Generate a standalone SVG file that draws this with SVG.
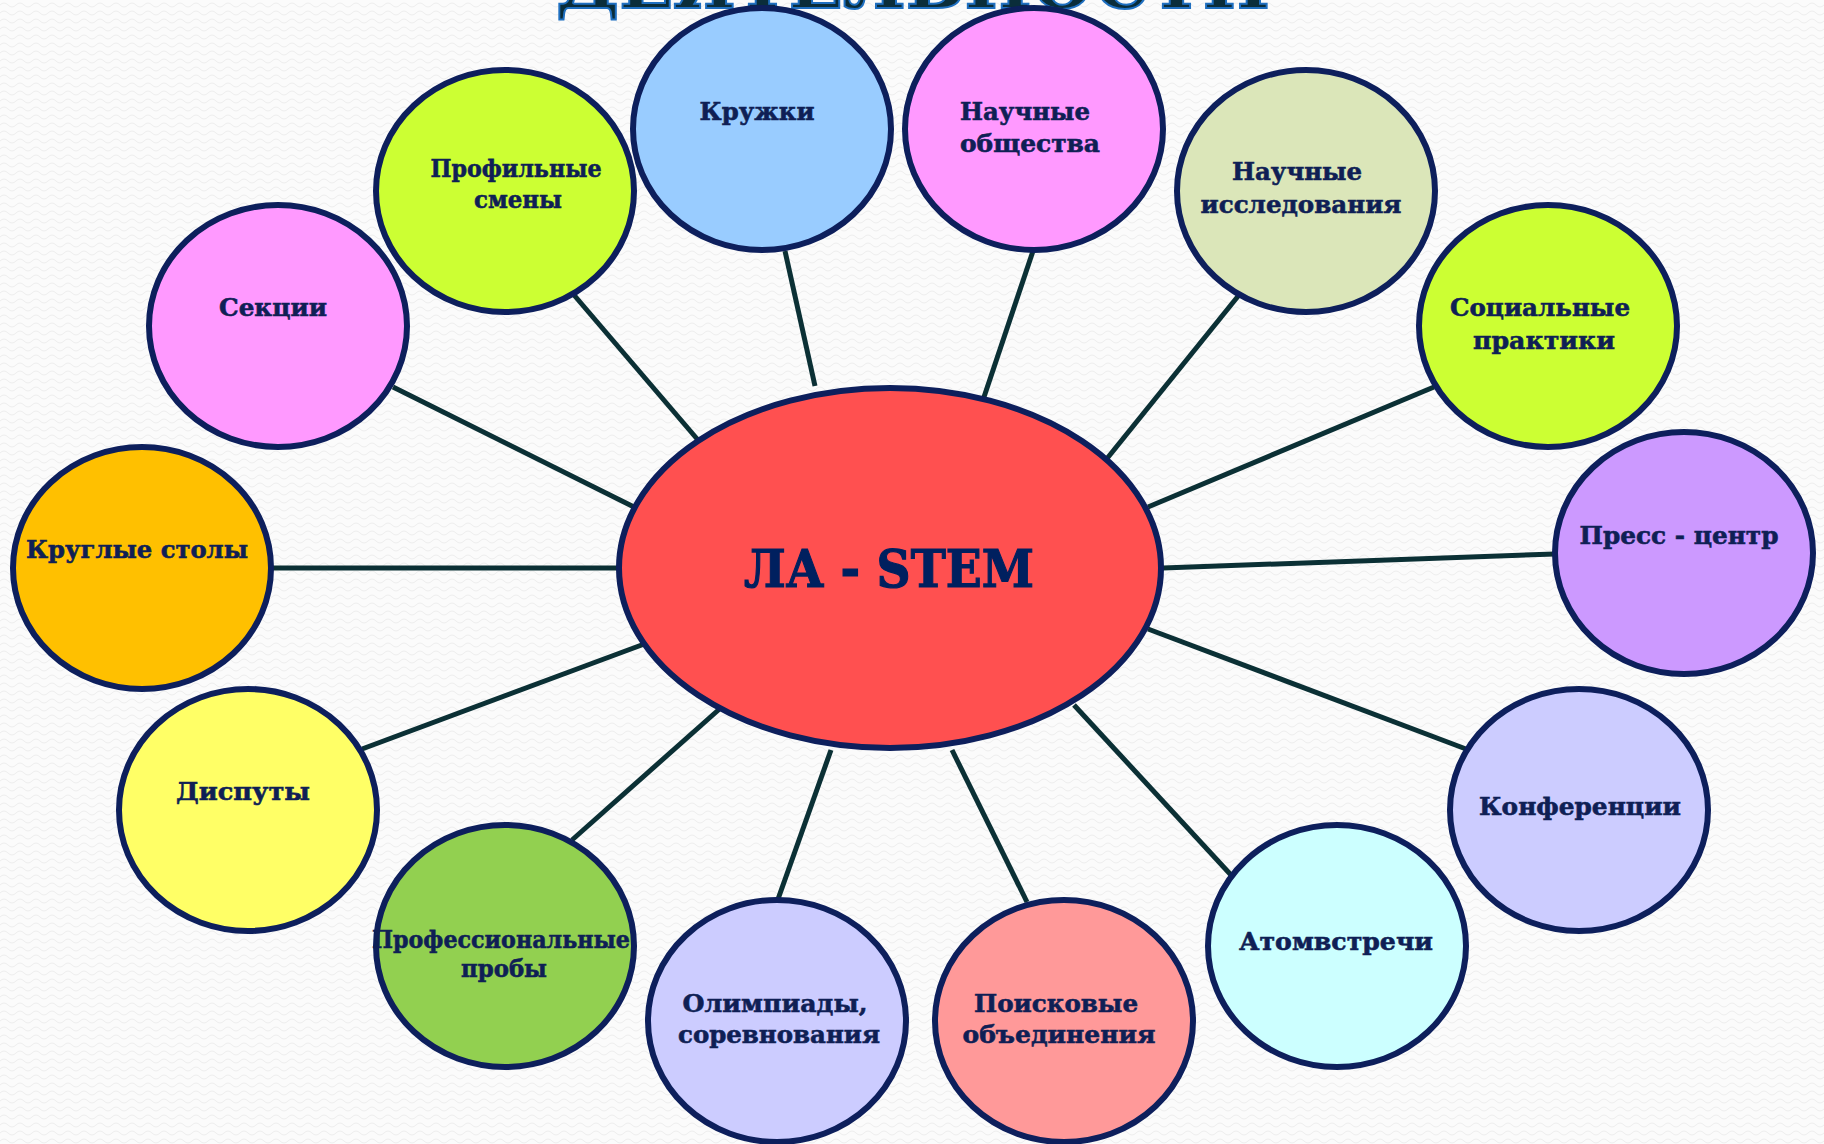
<svg xmlns="http://www.w3.org/2000/svg" width="1824" height="1144" viewBox="0 0 1824 1144">
<defs>
<pattern id="wave" width="16" height="8" patternUnits="userSpaceOnUse">
<rect width="16" height="8" fill="#fbfbfb"/>
<path d="M0 5 Q4 1 8 5 T16 5" fill="none" stroke="#eeeeee" stroke-width="1"/>
</pattern>
<style>
.n{stroke:#0d1f5c;stroke-width:6}
.c{stroke:#0b3035;stroke-width:5;fill:none}
.t{font-family:"DejaVu Serif","Liberation Serif",serif;font-weight:bold;font-size:25px;fill:#0f1f55;stroke:#0f1f55;stroke-width:0.6;text-anchor:middle}
.big{font-size:52px;fill:#00205f;stroke:#00205f;stroke-width:1.2}
.title{font-family:"DejaVu Serif","Liberation Serif",serif;font-weight:bold;font-size:72px;fill:#0a2d3a;stroke:#1f6fc0;stroke-width:2;text-anchor:middle}
</style>
</defs>
<rect width="1824" height="1144" fill="url(#wave)"/>
<text class="title" x="913" y="8" textLength="714" lengthAdjust="spacingAndGlyphs">ДЕЯТЕЛЬНОСТИ</text>
<g id="connectors">
<line class="c" x1="271" y1="568" x2="618" y2="568"/>
<line class="c" x1="393" y1="387" x2="634" y2="507"/>
<line class="c" x1="574" y1="295" x2="698" y2="440"/>
<line class="c" x1="785" y1="251" x2="815" y2="386"/>
<line class="c" x1="1033" y1="251" x2="983" y2="400"/>
<line class="c" x1="1239" y1="295" x2="1105" y2="461"/>
<line class="c" x1="1434" y1="387" x2="1148" y2="507"/>
<line class="c" x1="1555" y1="554" x2="1163" y2="568"/>
<line class="c" x1="1466" y1="749" x2="1148" y2="629"/>
<line class="c" x1="1231" y1="875" x2="1074" y2="705"/>
<line class="c" x1="1027" y1="902" x2="952" y2="750"/>
<line class="c" x1="777" y1="902" x2="831" y2="750"/>
<line class="c" x1="572" y1="840" x2="724" y2="705"/>
<line class="c" x1="362" y1="749" x2="647" y2="643"/>
</g>
<g id="center">
<ellipse class="n" cx="890" cy="568" rx="271" ry="180" fill="#ff5050"/>
<text class="t big" x="889" y="587" textLength="290" lengthAdjust="spacingAndGlyphs">ЛА - STEM</text>
</g>
<g id="n1">
<ellipse class="n" cx="142" cy="568" rx="129" ry="121" fill="#ffc000"/>
<text class="t" x="137" y="558" textLength="222" lengthAdjust="spacingAndGlyphs">Круглые столы</text>
</g>
<g id="n2">
<ellipse class="n" cx="278" cy="326" rx="129" ry="121" fill="#ff99ff"/>
<text class="t" x="273" y="316" textLength="108" lengthAdjust="spacingAndGlyphs">Секции</text>
</g>
<g id="n3">
<ellipse class="n" cx="505" cy="191" rx="129" ry="121" fill="#ccff33"/>
<text class="t" x="516" y="177" textLength="171" lengthAdjust="spacingAndGlyphs">Профильные</text>
<text class="t" x="518" y="208" textLength="88" lengthAdjust="spacingAndGlyphs">смены</text>
</g>
<g id="n4">
<ellipse class="n" cx="762" cy="129" rx="129" ry="121" fill="#99ccff"/>
<text class="t" x="757" y="120" textLength="115" lengthAdjust="spacingAndGlyphs">Кружки</text>
</g>
<g id="n5">
<ellipse class="n" cx="1034" cy="129" rx="129" ry="121" fill="#ff99ff"/>
<text class="t" x="1025" y="120" textLength="130" lengthAdjust="spacingAndGlyphs">Научные</text>
<text class="t" x="1030" y="152" textLength="140" lengthAdjust="spacingAndGlyphs">общества</text>
</g>
<g id="n6">
<ellipse class="n" cx="1306" cy="191" rx="129" ry="121" fill="#dbe6b9"/>
<text class="t" x="1297" y="180" textLength="130" lengthAdjust="spacingAndGlyphs">Научные</text>
<text class="t" x="1301" y="213" textLength="201" lengthAdjust="spacingAndGlyphs">исследования</text>
</g>
<g id="n7">
<ellipse class="n" cx="1548" cy="326" rx="129" ry="121" fill="#ccff33"/>
<text class="t" x="1540" y="316" textLength="180" lengthAdjust="spacingAndGlyphs">Социальные</text>
<text class="t" x="1544" y="349" textLength="142" lengthAdjust="spacingAndGlyphs">практики</text>
</g>
<g id="n8">
<ellipse class="n" cx="1684" cy="553" rx="129" ry="121" fill="#cc99ff"/>
<text class="t" x="1679" y="544" textLength="199" lengthAdjust="spacingAndGlyphs">Пресс - центр</text>
</g>
<g id="n9">
<ellipse class="n" cx="1579" cy="810" rx="129" ry="121" fill="#ccccff"/>
<text class="t" x="1580" y="815" textLength="202" lengthAdjust="spacingAndGlyphs">Конференции</text>
</g>
<g id="n10">
<ellipse class="n" cx="1337" cy="946" rx="129" ry="121" fill="#ccffff"/>
<text class="t" x="1336" y="950" textLength="194" lengthAdjust="spacingAndGlyphs">Атомвстречи</text>
</g>
<g id="n11">
<ellipse class="n" cx="1064" cy="1021" rx="129" ry="121" fill="#ff9999"/>
<text class="t" x="1056" y="1012" textLength="164" lengthAdjust="spacingAndGlyphs">Поисковые</text>
<text class="t" x="1059" y="1043" textLength="193" lengthAdjust="spacingAndGlyphs">объединения</text>
</g>
<g id="n12">
<ellipse class="n" cx="777" cy="1021" rx="129" ry="121" fill="#ccccff"/>
<text class="t" x="775" y="1012" textLength="185" lengthAdjust="spacingAndGlyphs">Олимпиады,</text>
<text class="t" x="779" y="1043" textLength="202" lengthAdjust="spacingAndGlyphs">соревнования</text>
</g>
<g id="n13">
<ellipse class="n" cx="505" cy="946" rx="129" ry="121" fill="#92d050"/>
<text class="t" x="501" y="948" textLength="258" lengthAdjust="spacingAndGlyphs">Профессиональные</text>
<text class="t" x="504" y="977" textLength="86" lengthAdjust="spacingAndGlyphs">пробы</text>
</g>
<g id="n14">
<ellipse class="n" cx="248" cy="810" rx="129" ry="121" fill="#ffff66"/>
<text class="t" x="243" y="800" textLength="134" lengthAdjust="spacingAndGlyphs">Диспуты</text>
</g>
</svg>
